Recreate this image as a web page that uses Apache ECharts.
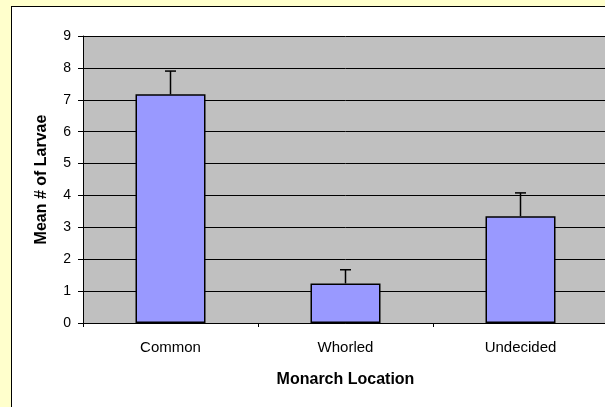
<!DOCTYPE html>
<html>
<head>
<meta charset="utf-8">
<script src="https://cdn.jsdelivr.net/npm/echarts@6/dist/echarts.min.js"></script>
<style>
  html, body { margin: 0; padding: 0; background: #ffffcc; overflow: hidden; }
  #chart {
    position: absolute; left: 11px; top: 6px;
    width: 600px; height: 410px;
    background: #ffffff; border: 1px solid #000;
  }
</style>
</head>
<body>
<div id="chart"></div>
<script>
// data
const categories = ['Common', 'Whorled', 'Undecided'];
const means = [7.17, 1.24, 3.35];
const errTops = [7.9, 1.67, 4.08];

const errData = categories.map((c, i) => [i, means[i], errTops[i]]);

const chart = echarts.init(document.getElementById('chart'));
const font = 'Liberation Sans, Arial, sans-serif';

const option = {
  animation: false,
  textStyle: { fontFamily: font },
  grid: { left: 71, top: 29, width: 525, height: 287, backgroundColor: '#c0c0c0', show: true, borderWidth: 0 },
  xAxis: {
    type: 'category',
    data: categories,
    name: 'Monarch Location',
    nameLocation: 'middle',
    nameGap: 49,
    nameTextStyle: { fontFamily: font, fontSize: 16, fontWeight: 'bold', color: '#000' },
    axisLine: { lineStyle: { color: '#000', width: 1 } },
    axisTick: { show: true, length: 4, lineStyle: { color: '#000' } },
    axisLabel: { margin: 17, fontFamily: font, fontSize: 15, color: '#000' }
  },
  yAxis: {
    type: 'value',
    min: 0, max: 9, interval: 1,
    name: 'Mean # of Larvae',
    nameLocation: 'middle',
    nameGap: 33,
    nameTextStyle: { fontFamily: font, fontSize: 16, fontWeight: 'bold', color: '#000' },
    axisLine: { show: true, lineStyle: { color: '#000', width: 1 } },
    axisTick: { show: true, length: 5, lineStyle: { color: '#000' } },
    axisLabel: { margin: 12, fontFamily: font, fontSize: 14, color: '#000' },
    splitLine: { show: true, lineStyle: { color: '#000', width: 1 } }
  },
  series: [
    {
      type: 'bar',
      data: means,
      barWidth: '40%',
      itemStyle: { color: '#9999ff', borderColor: '#000', borderWidth: 1.5 },
      z: 2
    },
    {
      type: 'custom',
      data: errData,
      z: 3,
      renderItem: function (params, api) {
        const base = api.coord([api.value(0), api.value(1)]);
        const top = api.coord([api.value(0), api.value(2)]);
        const half = 5.5;
        return {
          type: 'group',
          children: [
            { type: 'line', shape: { x1: base[0], y1: base[1], x2: top[0], y2: top[1] }, style: { stroke: '#000', lineWidth: 1.5 } },
            { type: 'line', shape: { x1: top[0] - half, y1: top[1], x2: top[0] + half, y2: top[1] }, style: { stroke: '#000', lineWidth: 1.5 } }
          ]
        };
      }
    }
  ]
};
chart.setOption(option);
</script>
</body>
</html>
